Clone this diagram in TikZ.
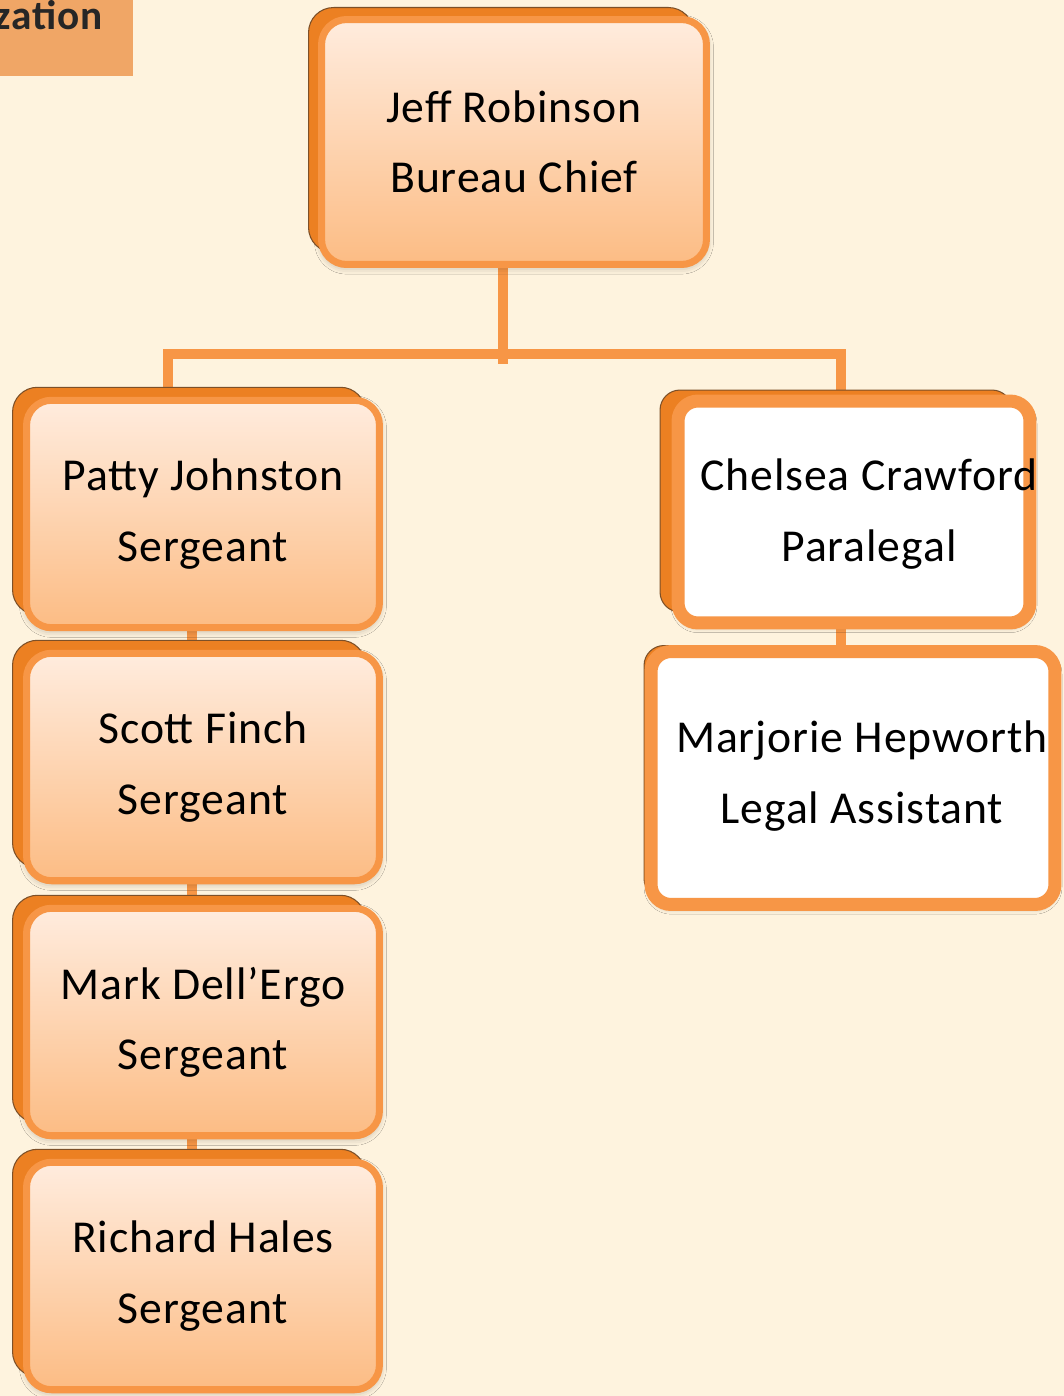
\documentclass[tikz,border=0pt]{standalone}
\usepackage{fontspec}
\setmainfont{Carlito}[LetterSpace=2]
\usetikzlibrary{shadows,shadows.blur,backgrounds}

\definecolor{cream}{RGB}{254,243,222}
\definecolor{tabfill}{RGB}{240,166,102}
\definecolor{accent}{RGB}{247,150,70}
\definecolor{backfill}{RGB}{236,128,34}
\definecolor{backedge}{RGB}{125,80,40}
\definecolor{peachtop}{RGB}{255,236,222}
\definecolor{peachbot}{RGB}{252,188,132}
\definecolor{inktext}{RGB}{38,38,38}

\begin{document}
\begin{tikzpicture}[x=0.02cm,y=-0.02cm,
        every node/.style={font=\fontsize{26}{40}\selectfont, align=center},
        card/.style args={#1/#2}{rectangle, draw=accent,
                blur shadow={shadow xshift=0pt, shadow yshift=-1.5pt,
                        shadow blur radius=4pt, shadow opacity=30},
                copy shadow={shadow xshift=#1, shadow yshift=#2,
                        fill=backfill, draw=backedge, line width=0.6pt}},
        peach/.style={card=#1, rounded corners=0.5cm, line width=4pt,
                top color=peachtop, bottom color=peachbot},
        plain/.style={card=#1, rounded corners=0.4cm, line width=7.4pt, fill=white},
        link/.style={draw=accent, line width=5.7pt}]
    \useasboundingbox (0,0) rectangle (1064,1396);

    % title tab, cut by the page edge
    \fill[tabfill] (0,0) rectangle (133,76);
    \node[anchor=base east, inner sep=0pt, text=inktext,
        font=\bfseries\fontsize{23.5}{24}\selectfont] (tab) at (103,30) {zation};

    \node[peach=-0.26cm/0.24cm, minimum width=7.7cm, minimum height=4.9cm]
        (jeff) at (514,142) {Jeff Robinson\\Bureau Chief};

    \foreach \who/\yy [count=\i] in {Patty Johnston/514, Scott Finch/767,
            Mark Dell'Ergo/1022, Richard Hales/1276}
        \node[peach=-0.28cm/0.26cm, minimum width=7.06cm, minimum height=4.55cm]
            (s\i) at (203,\yy) {\who\\Sergeant};

    \node[plain=-0.36cm/0.22cm, minimum width=7.04cm, minimum height=4.44cm]
        (chelsea) at (854,512) {};
    \node (chelseatxt) at ([shift={(15,2)}]chelsea.center) {Chelsea Crawford\\Paralegal};
    \node[plain=-0.14cm/0.12cm, minimum width=8.08cm, minimum height=5.06cm]
        (marjorie) at (853,778) {};
    \node (marjorietxt) at ([shift={(9,-2)}]marjorie.center) {Marjorie Hepworth\\Legal Assistant};

    \begin{scope}[on background layer]
        \fill[cream] (0,0) rectangle (1064,1396);
        \coordinate (hub) at (503,354);
        \coordinate (lbranch) at (168,354);
        \coordinate (rbranch) at (841,354);
        \coordinate (lstack) at (192,0);
        \draw[link] (hub |- jeff.south) -- ([shift={(0,10)}]hub);
        \draw[link] (lbranch |- s1.north) -- (lbranch) -- (rbranch) -- (rbranch |- chelsea.north);
        \draw[link] (rbranch |- chelsea.south) -- (rbranch |- marjorie.north);
        \foreach \i/\j in {1/2,2/3,3/4}
            \draw[link] (lstack |- s\i.south) -- (lstack |- s\j.north);
    \end{scope}
\end{tikzpicture}
\end{document}
